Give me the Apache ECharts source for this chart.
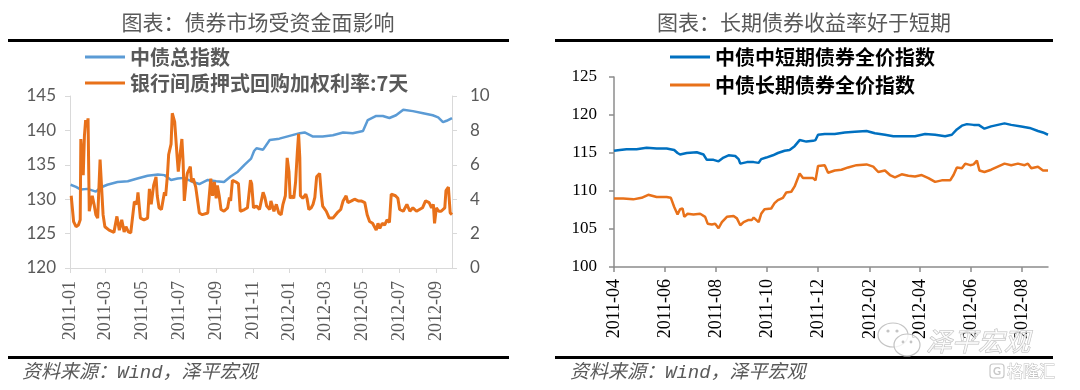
<!DOCTYPE html>
<html><head><meta charset="utf-8">
<script src="https://cdn.jsdelivr.net/npm/echarts@6/dist/echarts.min.js"></script>
<style>html,body{margin:0;padding:0;background:#fff;}#c{width:1080px;height:390px;}</style>
</head><body><div id="c"></div>
<script>
// ---------- tick labels ----------
const leftTicks = ['2011-01-01','2011-03-01','2011-05-01','2011-07-01','2011-09-01','2011-11-01','2012-01-01','2012-03-01','2012-05-01','2012-07-01','2012-09-01'];
const rightTicks = ['2011-04-01','2011-06-01','2011-08-01','2011-10-01','2011-12-01','2012-02-01','2012-04-01','2012-06-01','2012-08-01'];

// ---------- left chart: 中债总指数 ----------
const indexDates = ['2011-01-02','2011-01-11','2011-01-19','2011-01-30','2011-02-13','2011-02-21','2011-03-04','2011-03-21','2011-04-07','2011-04-23','2011-05-10','2011-05-27','2011-06-07','2011-06-18','2011-06-29','2011-07-10','2011-07-24','2011-08-04','2011-08-18','2011-09-01','2011-09-14','2011-09-25','2011-10-07','2011-10-18','2011-10-29','2011-11-03','2011-11-07','2011-11-18','2011-11-29','2011-12-15','2012-01-01','2012-01-18','2012-01-26','2012-02-09','2012-02-25','2012-03-13','2012-03-30','2012-04-15','2012-05-02','2012-05-10','2012-05-24','2012-06-04','2012-06-15','2012-06-26','2012-07-08','2012-07-24','2012-08-10','2012-08-26','2012-09-04','2012-09-12','2012-09-18','2012-09-27'];
const indexValues = [132.1,131.8,131.4,131.5,131.1,131.7,132.1,132.5,132.6,133.0,133.4,133.6,133.5,132.8,133.0,133.1,132.5,132.2,132.8,132.6,132.5,133.3,134.0,135.0,135.9,137.0,137.4,137.2,138.6,138.8,139.2,139.6,139.7,139.1,139.1,139.3,139.7,139.6,139.9,141.5,142.1,142.1,141.8,142.2,143.0,142.8,142.5,142.2,141.9,141.2,141.4,141.8];

// ---------- left chart: 银行间质押式回购加权利率:7天 ----------
const repoDates = ['2011-01-03','2011-01-07','2011-01-11','2011-01-15','2011-01-18','2011-01-19','2011-01-21','2011-01-23','2011-01-25','2011-01-27','2011-01-29','2011-01-31','2011-02-02','2011-02-05','2011-02-07','2011-02-10','2011-02-13','2011-02-16','2011-02-20','2011-02-22','2011-02-25','2011-02-28','2011-03-03','2011-03-07','2011-03-15','2011-03-20','2011-03-24','2011-03-28','2011-04-01','2011-04-04','2011-04-08','2011-04-12','2011-04-18','2011-04-22','2011-04-24','2011-04-28','2011-05-04','2011-05-10','2011-05-13','2011-05-16','2011-05-20','2011-05-24','2011-05-26','2011-05-29','2011-06-02','2011-06-07','2011-06-09','2011-06-12','2011-06-14','2011-06-18','2011-06-20','2011-06-22','2011-06-24','2011-06-28','2011-06-30','2011-07-03','2011-07-06','2011-07-08','2011-07-10','2011-07-13','2011-07-15','2011-07-20','2011-07-22','2011-07-25','2011-07-29','2011-08-04','2011-08-09','2011-08-18','2011-08-23','2011-08-26','2011-08-29','2011-09-01','2011-09-03','2011-09-06','2011-09-09','2011-09-14','2011-09-20','2011-09-23','2011-09-25','2011-09-28','2011-10-04','2011-10-08','2011-10-11','2011-10-18','2011-10-23','2011-10-28','2011-10-30','2011-11-02','2011-11-07','2011-11-12','2011-11-18','2011-11-21','2011-11-24','2011-11-29','2011-12-01','2011-12-06','2011-12-10','2011-12-14','2011-12-18','2011-12-21','2011-12-25','2011-12-28','2011-12-31','2012-01-02','2012-01-05','2012-01-08','2012-01-11','2012-01-14','2012-01-16','2012-01-18','2012-01-19','2012-01-23','2012-01-28','2012-01-30','2012-02-02','2012-02-06','2012-02-09','2012-02-12','2012-02-15','2012-02-20','2012-02-23','2012-02-25','2012-03-02','2012-03-07','2012-03-13','2012-03-20','2012-03-26','2012-03-30','2012-04-02','2012-04-04','2012-04-07','2012-04-13','2012-04-18','2012-04-24','2012-04-29','2012-05-05','2012-05-09','2012-05-13','2012-05-18','2012-05-21','2012-05-24','2012-05-27','2012-05-30','2012-06-03','2012-06-07','2012-06-11','2012-06-15','2012-06-18','2012-06-21','2012-06-25','2012-06-29','2012-07-02','2012-07-08','2012-07-14','2012-07-19','2012-07-24','2012-07-30','2012-08-04','2012-08-09','2012-08-14','2012-08-20','2012-08-24','2012-08-27','2012-08-29','2012-09-01','2012-09-05','2012-09-09','2012-09-15','2012-09-17','2012-09-21','2012-09-24','2012-09-27'];
const repoValues = [4.2,2.7,2.4,2.5,2.8,7.5,7.5,5.4,7.7,8.6,8.2,8.7,3.3,3.3,4.2,3.7,3.1,2.9,6.3,6.2,3.1,2.4,2.3,2.2,2.07,3.0,2.2,2.8,2.1,2.4,2.1,2.05,3.86,3.7,4.4,2.9,2.8,2.9,4.6,3.7,4.8,5.3,4.2,3.5,3.4,4.4,4.2,5.4,6.6,7.2,9.0,9.1,8.5,6.5,5.6,6.6,7.5,6.2,3.9,5.0,5.5,5.9,5.0,5.2,4.7,3.2,3.1,3.2,5.2,4.2,5.0,4.05,4.8,4.2,3.4,3.3,3.5,4.1,3.9,5.1,5.0,4.9,3.3,3.4,3.5,5.1,4.9,3.5,3.6,3.4,4.4,4.1,3.6,3.4,3.9,3.3,3.7,3.2,3.1,3.7,4.2,6.4,5.6,4.05,4.2,4.05,5.0,6.8,7.8,6.4,4.2,4.05,4.3,4.05,3.4,3.5,3.7,4.1,5.3,5.5,4.2,3.6,3.3,2.9,2.9,3.2,3.4,3.9,3.8,4.2,3.8,3.9,4.0,3.9,3.9,3.8,3.1,2.7,2.6,2.6,2.2,2.6,2.3,2.6,2.5,2.8,2.65,4.3,4.3,4.2,4.05,3.4,3.3,3.7,3.3,3.5,3.3,3.4,3.5,3.9,3.8,3.5,3.7,2.6,3.5,3.3,3.3,3.5,4.5,4.7,3.2,3.1];

// ---------- right chart: 中债中短期债券全价指数 ----------
const shortDates = ['2011-04-01','2011-04-08','2011-04-16','2011-04-28','2011-05-10','2011-05-22','2011-06-03','2011-06-12','2011-06-16','2011-06-19','2011-06-27','2011-07-09','2011-07-17','2011-07-21','2011-07-29','2011-08-04','2011-08-10','2011-08-16','2011-08-24','2011-08-28','2011-08-30','2011-09-07','2011-09-15','2011-09-21','2011-09-24','2011-09-30','2011-10-08','2011-10-14','2011-10-22','2011-10-28','2011-11-03','2011-11-09','2011-11-17','2011-11-25','2011-11-28','2011-12-01','2011-12-09','2011-12-21','2012-01-02','2012-01-14','2012-01-28','2012-02-07','2012-02-19','2012-02-29','2012-03-12','2012-03-26','2012-04-07','2012-04-19','2012-05-01','2012-05-09','2012-05-15','2012-05-21','2012-05-27','2012-06-04','2012-06-10','2012-06-17','2012-06-25','2012-07-03','2012-07-11','2012-07-19','2012-07-31','2012-08-10','2012-08-20','2012-08-26','2012-09-01'];
const shortValues = [115.3,115.4,115.5,115.5,115.7,115.6,115.6,115.4,115.0,114.8,115.0,115.1,114.8,114.1,114.1,113.9,114.4,114.7,114.6,114.2,113.6,113.8,113.8,113.7,114.2,114.4,114.7,115.0,115.3,115.4,115.9,116.7,116.5,116.6,116.7,117.4,117.5,117.5,117.7,117.8,117.9,117.6,117.4,117.2,117.2,117.2,117.5,117.4,117.2,117.4,118.1,118.6,118.8,118.7,118.7,118.2,118.5,118.7,118.9,118.7,118.5,118.3,117.9,117.7,117.4];

// ---------- right chart: 中债长期债券全价指数 ----------
const longDates = ['2011-04-01','2011-04-12','2011-04-24','2011-05-04','2011-05-12','2011-05-22','2011-06-03','2011-06-08','2011-06-12','2011-06-16','2011-06-19','2011-06-22','2011-06-24','2011-06-28','2011-07-05','2011-07-13','2011-07-19','2011-07-22','2011-07-27','2011-07-31','2011-08-04','2011-08-08','2011-08-14','2011-08-22','2011-08-26','2011-08-30','2011-09-03','2011-09-09','2011-09-13','2011-09-15','2011-09-21','2011-09-24','2011-09-28','2011-10-06','2011-10-10','2011-10-14','2011-10-20','2011-10-24','2011-10-30','2011-11-03','2011-11-09','2011-11-13','2011-11-19','2011-11-25','2011-11-28','2011-12-01','2011-12-09','2011-12-13','2011-12-21','2011-12-29','2012-01-06','2012-01-16','2012-01-28','2012-02-05','2012-02-11','2012-02-19','2012-02-25','2012-03-02','2012-03-10','2012-03-18','2012-03-26','2012-04-03','2012-04-11','2012-04-19','2012-04-27','2012-05-07','2012-05-11','2012-05-15','2012-05-21','2012-05-25','2012-05-31','2012-06-04','2012-06-08','2012-06-11','2012-06-17','2012-06-25','2012-07-03','2012-07-11','2012-07-19','2012-07-27','2012-08-04','2012-08-08','2012-08-12','2012-08-20','2012-08-26','2012-09-01'];
const longValues = [109.0,109.0,108.9,109.1,109.5,109.2,109.2,109.1,107.9,106.9,107.6,107.7,106.6,107.0,106.9,107.0,106.6,105.7,105.6,105.7,105.1,105.9,106.6,106.7,106.4,105.5,105.9,106.2,106.2,106.5,105.9,107.0,107.6,107.7,108.4,108.8,109.1,109.8,109.9,110.6,112.3,111.7,111.7,111.7,111.4,113.3,113.4,112.4,112.7,112.8,113.1,113.4,113.5,113.2,112.5,112.7,112.1,111.8,112.2,112.0,111.9,112.1,111.7,111.2,111.4,111.4,112.1,113.1,113.0,113.6,113.4,113.5,114.0,112.7,112.5,112.8,113.2,113.6,113.4,113.6,113.4,113.6,113.0,113.2,112.7,112.7];

// ---------- helpers ----------
function ts(s){const p=s.split('-');return Date.UTC(+p[0],+p[1]-1,+p[2]);}
function pairs(d,v){return d.map((x,i)=>[ts(x),v[i]]);}
function ym(v){const d=new Date(v);return d.getUTCFullYear()+'-'+String(d.getUTCMonth()+1).padStart(2,'0');}

const CJK = '"Noto Sans CJK SC"';
const SERIF = '"Liberation Serif"';
const SANS = 'Lato';
const lightAxis = '#D9D9D9';
const darkAxis = '#8C8C8C';

const chart = echarts.init(document.getElementById('c'), null, {renderer:'canvas'});
chart.setOption({
  animation:false,
  backgroundColor:'#fff',
  grid:[
    {left:70, top:96, width:382, height:172},
    {left:614, top:77, width:434, height:190}
  ],
  legend:[
    {orient:'vertical', left:80, top:42, itemWidth:40, itemHeight:3, itemGap:6, icon:'rect',
     data:['中债总指数','银行间质押式回购加权利率:7天'],
     textStyle:{color:'#595959', fontSize:20, fontFamily:CJK, fontWeight:'bold'}},
    {orient:'vertical', left:665, top:42, itemWidth:40, itemHeight:3, itemGap:8, icon:'rect',
     data:['中债中短期债券全价指数','中债长期债券全价指数'],
     textStyle:{color:'#000', fontSize:20, fontFamily:CJK, fontWeight:'bold'}}
  ],
  xAxis:[
    {type:'value', gridIndex:0, min:ts('2011-01-01'), max:ts('2012-09-27'),
     axisLine:{show:true, lineStyle:{color:lightAxis, width:1}},
     axisTick:{show:true, length:5, lineStyle:{color:lightAxis}, customValues:leftTicks.map(ts)},
     axisLabel:{customValues:leftTicks.map(ts), formatter:ym, rotate:90, margin:13, color:'#595959', fontSize:18, fontFamily:SERIF},
     splitLine:{show:false}},
    {type:'value', gridIndex:1, min:ts('2011-04-01'), max:ts('2012-09-01'),
     axisLine:{show:true, lineStyle:{color:darkAxis, width:1.5}},
     axisTick:{show:true, length:5, lineStyle:{color:darkAxis, width:1.5}, customValues:rightTicks.map(ts)},
     axisLabel:{customValues:rightTicks.map(ts), formatter:ym, rotate:90, margin:12, color:'#000', fontSize:18, fontFamily:SERIF},
     splitLine:{show:false}}
  ],
  yAxis:[
    {type:'value', gridIndex:0, position:'left', min:120, max:145, interval:5,
     axisLine:{show:true, lineStyle:{color:lightAxis}},
     axisTick:{show:true, length:5, lineStyle:{color:lightAxis}},
     axisLabel:{margin:14, color:'#595959', fontSize:17, fontFamily:SANS},
     splitLine:{show:false}},
    {type:'value', gridIndex:0, position:'right', min:0, max:10, interval:2,
     axisLine:{show:true, lineStyle:{color:lightAxis}},
     axisTick:{show:true, length:5, lineStyle:{color:lightAxis}},
     axisLabel:{margin:18, color:'#595959', fontSize:17, fontFamily:SANS},
     splitLine:{show:false}},
    {type:'value', gridIndex:1, position:'left', min:100, max:125, interval:5,
     axisLine:{show:true, lineStyle:{color:darkAxis, width:1.5}},
     axisTick:{show:true, length:5, lineStyle:{color:darkAxis, width:1.5}},
     axisLabel:{margin:17, color:'#000', fontSize:17, fontFamily:SERIF},
     splitLine:{show:false}}
  ],
  series:[
    {name:'中债总指数', type:'line', xAxisIndex:0, yAxisIndex:0, data:pairs(indexDates,indexValues),
     symbol:'none', color:'#5B9BD5', lineStyle:{width:2.5, color:'#5B9BD5'}},
    {name:'银行间质押式回购加权利率:7天', type:'line', xAxisIndex:0, yAxisIndex:1, data:pairs(repoDates,repoValues),
     symbol:'none', color:'#E8711A', lineStyle:{width:3, color:'#E8711A'}},
    {name:'中债中短期债券全价指数', type:'line', xAxisIndex:1, yAxisIndex:2, data:pairs(shortDates,shortValues),
     symbol:'none', color:'#0070C0', lineStyle:{width:2.5, color:'#0070C0'}},
    {name:'中债长期债券全价指数', type:'line', xAxisIndex:1, yAxisIndex:2, data:pairs(longDates,longValues),
     symbol:'none', color:'#E8711A', lineStyle:{width:2.5, color:'#E8711A'}}
  ],
  graphic:[
    {type:'text', z:10, style:{text:'图表：债券市场受资金面影响', x:258, y:22, textAlign:'center', textVerticalAlign:'middle', font:'21px '+CJK, fill:'#595959'}},
    {type:'text', z:10, style:{text:'图表：长期债券收益率好于短期', x:804, y:22, textAlign:'center', textVerticalAlign:'middle', font:'21px '+CJK, fill:'#595959'}},
    {type:'rect', z:10, shape:{x:8, y:39, width:501, height:3}, style:{fill:'#000'}},
    {type:'rect', z:10, shape:{x:555, y:39, width:498, height:3}, style:{fill:'#000'}},
    {type:'rect', z:10, shape:{x:8, y:356, width:501, height:3}, style:{fill:'#000'}},
    {type:'rect', z:10, shape:{x:555, y:356, width:498, height:3}, style:{fill:'#000'}},
    {type:'text', z:10, style:{text:'资料来源：Wind，泽平宏观', x:22, y:373, textVerticalAlign:'middle', font:'italic 19px "Liberation Mono", '+CJK, fill:'#595959'}},
    {type:'text', z:10, style:{text:'资料来源：Wind，泽平宏观', x:570, y:373, textVerticalAlign:'middle', font:'italic 19px "Liberation Mono", '+CJK, fill:'#595959'}},
    // watermark
    {type:'ellipse', z:20, shape:{cx:893, cy:335, rx:15, ry:12}, style:{fill:'rgba(255,255,255,0.6)', stroke:'#c4c4c4', lineWidth:1.2}},
    {type:'ellipse', z:21, shape:{cx:907, cy:345, rx:13, ry:11}, style:{fill:'rgba(255,255,255,0.8)', stroke:'#c4c4c4', lineWidth:1.2}},
    {type:'circle', z:22, shape:{cx:888, cy:331, r:1.6}, style:{fill:'#c4c4c4'}},
    {type:'circle', z:22, shape:{cx:897, cy:331, r:1.6}, style:{fill:'#c4c4c4'}},
    {type:'circle', z:22, shape:{cx:903, cy:342, r:1.4}, style:{fill:'#c4c4c4'}},
    {type:'circle', z:22, shape:{cx:911, cy:342, r:1.4}, style:{fill:'#c4c4c4'}},
    {type:'text', z:22, style:{text:'泽平宏观', x:926, y:341, textVerticalAlign:'middle', font:'italic 26px '+CJK, fill:'rgba(255,255,255,0.7)', stroke:'#bdbdbd', lineWidth:1}},
    {type:'rect', z:22, shape:{x:990, y:364, width:14, height:14, r:3}, style:{fill:'#fff', stroke:'#c8c8c8', lineWidth:1.2}},
    {type:'text', z:23, style:{text:'G', x:997, y:371, textAlign:'center', textVerticalAlign:'middle', font:'bold 11px Lato', fill:'#c8c8c8'}},
    {type:'text', z:22, style:{text:'格隆汇', x:1007, y:371, textVerticalAlign:'middle', font:'16px '+CJK, fill:'#fff', stroke:'#c0c0c0', lineWidth:1}}
  ]
});
</script></body></html>
